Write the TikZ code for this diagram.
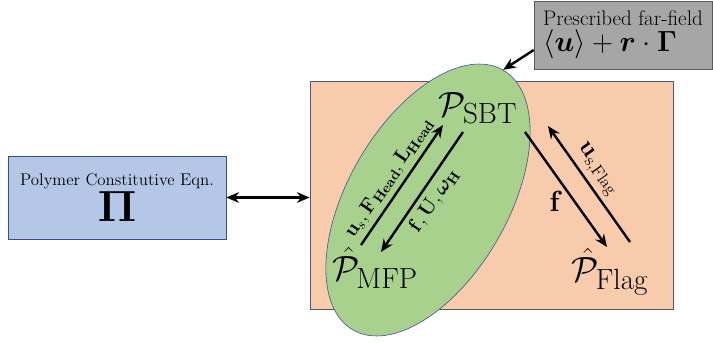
\documentclass[tikz,border=0pt]{standalone}
\usepackage{amsmath,bm}
\usetikzlibrary{arrows.meta,positioning,shapes.geometric}
\definecolor{boxblue}{HTML}{B4C7E7}
\definecolor{edgeblue}{HTML}{2F528F}
\definecolor{sysorange}{HTML}{F8CBAD}
\definecolor{edgegray}{HTML}{4F5B68}
\definecolor{sbtgreen}{HTML}{A9D18E}
\definecolor{fargray}{HTML}{A6A6A6}
\begin{document}
\begin{tikzpicture}[x=0.025cm,y=0.025cm,>={Stealth[length=9pt,width=7.5pt]},
  link/.style={line width=1.7pt}]
  \useasboundingbox (0,0) rectangle (713,-343);
  % coupled hydrodynamic block
  \node[draw=edgegray,fill=sysorange,minimum width=9.075cm,minimum height=5.7cm,inner sep=0]
        (sys) at (491.5,-195) {};
  % SBT / MFP ellipse
  \node[draw=edgeblue,fill=sbtgreen,ellipse,rotate=60,minimum width=7.5cm,minimum height=4cm,inner sep=0]
        (ell) at (428,-200) {};
  % polymer stress model
  \node[draw=edgeblue,fill=boxblue,minimum width=5.45cm,minimum height=2.075cm,align=center]
        (poly) at (117,-197.5) {{\large Polymer Constitutive Eqn.}\\[1pt] \scalebox{1.25}{\Huge$\mathbf{\Pi}$}};
  % imposed flow
  \node[draw=gray!70!black,fill=fargray,minimum width=4.45cm,minimum height=1.7cm,align=left,inner sep=1pt]
        (far) at (623,-35) {{\fontsize{15}{17}\selectfont Prescribed far-field}\\[2pt] {\huge$\langle\bm{u}\rangle+\bm{r}\cdot\bm{\Gamma}$}};
  % sub-problems
  \node (sbt) at (478,-108) {\Huge$\mathcal{P}_{\mathrm{SBT}}$};
  \node (mfp) at (375,-268) {\Huge$\hat{\mathcal{P}}_{\mathrm{MFP}}$};
  \node (flag) at (610,-272) {\Huge$\hat{\mathcal{P}}_{\mathrm{Flag}}$};
  \coordinate (mfp-out) at (361,-245);
  \coordinate (sbt-in) at (443,-125);
  \coordinate (sbt-out) at (463,-132);
  \coordinate (mfp-in) at (381,-252);
  \coordinate (sbt-f) at (525,-132);
  \coordinate (flag-in) at (607,-247);
  \coordinate (flag-out) at (630,-242);
  \coordinate (sbt-u) at (548,-126);
  % exchanges
  \draw[->,link] (mfp-out) -- node[above,sloped,pos=0.49]
        {\Large$\mathbf{u}_s, \mathbf{F}_{\mathbf{Head}}, \mathbf{L}_{\mathbf{Head}}$} (sbt-in);
  \draw[->,link] (sbt-out) -- node[below,sloped,pos=0.5]
        {\Large$\mathbf{f}, \mathbf{U}, \bm{\omega}_{\mathbf{H}}$} (mfp-in);
  \draw[->,link] (sbt-f) -- node[left,pos=0.6,xshift=-4pt] {\huge$\mathbf{f}$} (flag-in);
  \draw[->,link] (flag-out) -- node[above,sloped,pos=0.55]
        {\LARGE$\mathbf{u}_{\mathrm{s,Flag}}$} (sbt-u);
  \draw[<->,link] (poly.east) -- (poly.east -| sys.west);
  \draw[->,link] ([yshift=-0.375cm]far.west) -- (ell.east);
\end{tikzpicture}
\end{document}
